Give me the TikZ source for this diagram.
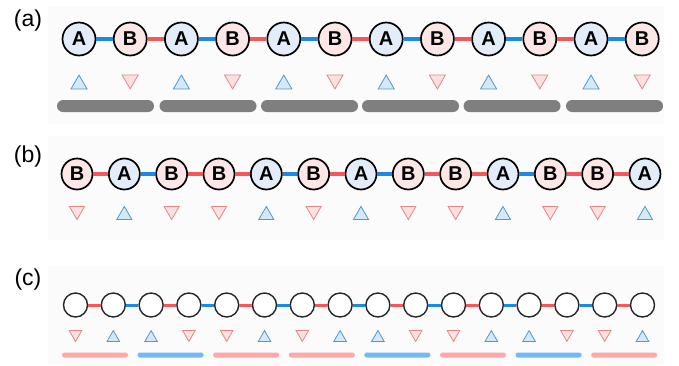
\documentclass[tikz,border=0pt]{standalone}
\usepackage{fontspec}
\setmainfont{Liberation Sans}
\usetikzlibrary{shapes.geometric}
\definecolor{Afill}{HTML}{E3EDFA}
\definecolor{Bfill}{HTML}{FDE6E6}
\definecolor{bondb}{HTML}{1E88E5}
\definecolor{bondr}{HTML}{F05A5A}
\definecolor{upline}{HTML}{4A9BD4}
\definecolor{upfill}{HTML}{D6E8F5}
\definecolor{dnline}{HTML}{E08888}
\definecolor{dnfill}{HTML}{FBE0E0}
\definecolor{graybar}{HTML}{7F7F7F}
\definecolor{barr}{HTML}{FFA8A8}
\definecolor{barb}{HTML}{74B9F7}
\definecolor{panel}{HTML}{FBFBFB}
\begin{document}
\begin{tikzpicture}[x=1pt,y=-1pt,
  lbl/.style={inner sep=0pt,font=\fontsize{23}{23}\selectfont},
  atom/.style={circle,draw=black,line width=1.7pt,inner sep=0pt,minimum size=#1,
    font=\fontsize{20}{20}\selectfont\bfseries},
  atom/.default=33,
  circA/.style={atom=#1,fill=Afill},
  circA/.default=33,
  circB/.style={atom=#1,fill=Bfill},
  circB/.default=33,
  ring/.style={circle,draw=black!85,line width=1.4pt,fill=white,inner sep=0pt,minimum size=24},
  tri/.style={regular polygon,regular polygon sides=3,minimum size=#1,inner sep=0pt,line width=0.8pt},
  triA/.style={tri=#1,draw=upline,fill=upfill,yshift=-#1/8},
  triA/.default=18.5,
  triB/.style={tri=#1,draw=dnline,fill=dnfill,shape border rotate=180,yshift=#1/8},
  triB/.default=18.5,
  bondb/.style={draw=bondb,line width=#1},
  bondb/.default=3.6pt,
  bondr/.style={draw=bondr,line width=#1},
  bondr/.default=3.6pt,
  gbar/.style={fill=graybar,rounded corners=6pt,minimum width=97,minimum height=12,inner sep=0pt},
  cbar/.style={fill=bar#1,rounded corners=2.4pt,minimum width=66,minimum height=5,inner sep=0pt},
]
\useasboundingbox (0,0) rectangle (679,365);
\fill[white] (0,0) rectangle (679,365);
% faint panels
\fill[panel] (48,6) rectangle (664,124);
\fill[panel] (48,136) rectangle (664,240);
\fill[panel] (48,266) rectangle (664,365);

% labels
\node[lbl] (la) at (28,21) {(a)};
\node[lbl] (lb) at (28,157) {(b)};
\node[lbl] (lc) at (28,280) {(c)};

% ---------- row (a)
\foreach \L [count=\i, evaluate=\i as \x using 79+51.2*(\i-1)] in {A,B,A,B,A,B,A,B,A,B,A,B}{
  \node[circ\L] (a\i) at (\x,39) {\L};
  \node[tri\L] (ta\i) at (\x,82) {};
}
\foreach \c [count=\i, evaluate=\i as \j using int(\i+1)] in {b,r,b,r,b,r,b,r,b,r,b}{
  \draw[bond\c] (a\i) -- (a\j);
}
\foreach \x [count=\i] in {105.5,208,309.5,410.5,512,614.5}{
  \node[gbar] (ga\i) at (\x,106) {};
}

% ---------- row (b)
\foreach \L [count=\i, evaluate=\i as \x using 77+47.33*(\i-1)] in {B,A,B,B,A,B,A,B,B,A,B,B,A}{
  \node[circ\L=31] (b\i) at (\x,174) {\L};
  \node[tri\L=17.5] (tb\i) at (\x,213) {};
}
\foreach \c [count=\i, evaluate=\i as \j using int(\i+1)] in {r,b,r,r,b,r,b,r,r,b,r,r}{
  \draw[bond\c=3.3pt] (b\i) -- (b\j);
}

% ---------- row (c)
\foreach \L [count=\i, evaluate=\i as \x using 75.5+37.8*(\i-1)] in {B,A,A,B,B,A,B,A,A,B,B,A,A,B,B,A}{
  \node[ring] (c\i) at (\x,305) {};
  \node[tri\L=14.5] (tc\i) at (\x,336) {};
}
\foreach \c [count=\i, evaluate=\i as \j using int(\i+1)] in {r,b,r,b,r,b,r,b,r,b,r,b,r,b,r}{
  \draw[bond\c=3pt] (c\i) -- (c\j);
}
\foreach \c [count=\i, evaluate=\i as \x using 95+75.6*(\i-1)] in {r,b,r,r,b,r,b,r}{
  \node[cbar=\c] (cb\i) at (\x,355) {};
}
\end{tikzpicture}
\end{document}
